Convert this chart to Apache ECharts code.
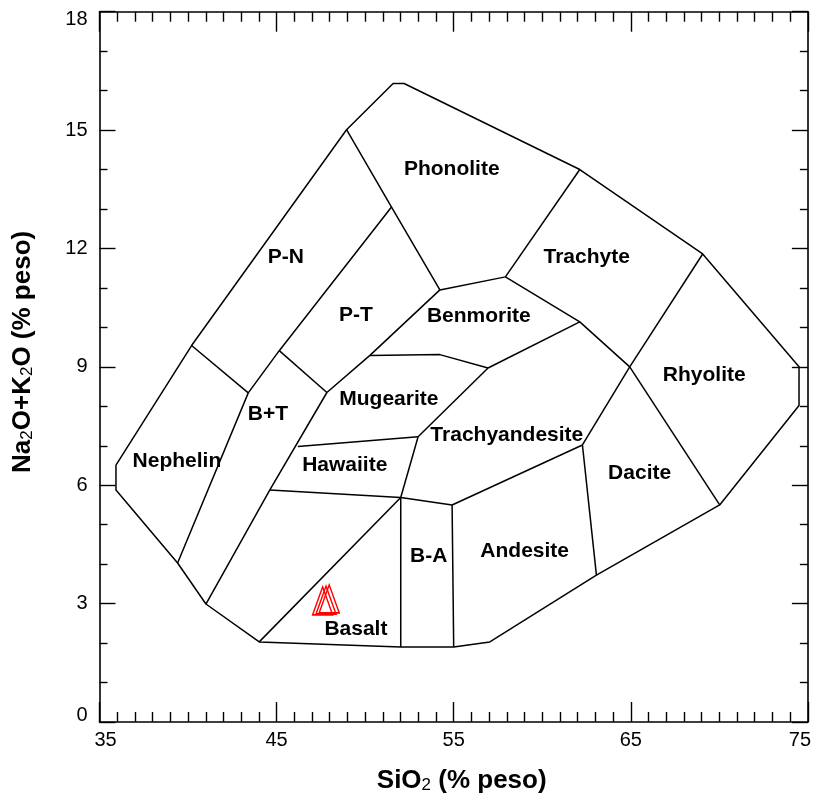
<!DOCTYPE html>
<html>
<head>
<meta charset="utf-8">
<script src="https://cdn.jsdelivr.net/npm/echarts@6/dist/echarts.min.js"></script>
<style>
html,body{margin:0;padding:0;background:#fff;}
#chart{width:814px;height:799px;}
</style>
</head>
<body>
<div id="chart"></div>
<script>
// TAS diagram: total alkalis vs silica, field boundaries in wt%
const outerBoundary = [
  [35.93, 6.51], [40.2, 9.54], [48.95, 15.01], [51.58, 16.18], [52.2, 16.18],
  [62.12, 14.0], [69.06, 11.86], [74.5, 9.0], [74.5, 8.02], [70.02, 5.5],
  [63.06, 3.72], [57.04, 2.03], [55.0, 1.9], [52.01, 1.9], [44.02, 2.03],
  [41.01, 2.99], [39.41, 4.03], [35.93, 5.88], [35.93, 6.51]
];

const fieldDividers = [
  [[40.2, 9.54], [43.4, 8.34]],
  [[51.49, 13.05], [45.15, 9.41], [43.4, 8.34], [39.41, 4.03]],
  [[45.15, 9.41], [47.84, 8.35]],
  [[48.95, 15.01], [51.49, 13.05], [54.22, 10.95]],
  [[47.84, 8.35], [50.27, 9.29], [54.22, 10.95]],
  [[54.22, 10.95], [57.92, 11.28]],
  [[57.92, 11.28], [62.12, 14.0]],
  [[57.92, 11.28], [62.12, 10.14], [64.94, 9.0]],
  [[64.94, 9.0], [69.06, 11.86]],
  [[50.27, 9.29], [54.22, 9.31], [56.94, 8.97]],
  [[56.94, 8.97], [62.12, 10.14]],
  [[47.84, 8.35], [44.62, 5.88], [41.01, 2.99]],
  [[46.2, 6.98], [52.99, 7.23]],
  [[52.99, 7.23], [56.94, 8.97]],
  [[52.99, 7.23], [52.01, 5.69]],
  [[44.62, 5.88], [52.01, 5.69]],
  [[44.02, 2.03], [52.01, 5.69]],
  [[52.01, 5.69], [52.01, 1.9]],
  [[52.01, 5.69], [54.91, 5.5]],
  [[54.91, 5.5], [55.0, 1.9]],
  [[54.91, 5.5], [62.27, 7.02]],
  [[62.27, 7.02], [64.94, 9.0]],
  [[62.27, 7.02], [63.06, 3.72]],
  [[64.94, 9.0], [70.02, 5.5]]
];

// Field names and where they sit
const fieldNames = ['Phonolite', 'P-N', 'Trachyte', 'P-T', 'Benmorite', 'Rhyolite', 'Mugearite',
  'B+T', 'Trachyandesite', 'Nephelin', 'Hawaiite', 'Dacite', 'B-A', 'Andesite', 'Basalt'];
const fieldSiO2 = [54.89, 45.52, 62.51, 49.48, 56.42, 69.15, 51.34, 44.51, 58.0, 39.37, 48.85, 65.5, 53.59, 59.01, 49.48];
const fieldAlk  = [14.0, 11.78, 11.78, 10.32, 10.29, 8.78, 8.17, 7.79, 7.26, 6.6, 6.5, 6.3, 4.2, 4.33, 2.34];

// Analysed samples
const sampleSiO2 = [47.60, 47.79, 47.97];
const sampleAlk  = [3.07, 3.09, 3.12];

// Axis tick labels
const siO2Ticks = [35, 45, 55, 65, 75];
const alkTicks = [0, 3, 6, 9, 12, 15, 18];

const FONT = 'Arial, "Liberation Sans", Helvetica, sans-serif';
const chart = echarts.init(document.getElementById('chart'));

const lineStyle = { color: '#000', width: 1.5 };
const boundarySeries = [outerBoundary].concat(fieldDividers).map(seg => ({
  type: 'line',
  data: seg,
  symbol: 'none',
  showSymbol: false,
  silent: true,
  lineStyle: lineStyle,
  z: 2
}));

const frameAxis = (extra) => Object.assign({
  type: 'value',
  splitLine: { show: false },
  minorSplitLine: { show: false },
  axisLine: { show: true, onZero: false, lineStyle: { color: '#000', width: 1.6 } }
}, extra);

const xCommon = {
  min: 35, max: 75, interval: 10,
  axisTick: { show: true, inside: true, length: 20, lineStyle: { color: '#000', width: 1.4 } },
  minorTick: { show: true, splitNumber: 10, length: 10, lineStyle: { color: '#000', width: 1.4 } }
};
const yCommon = {
  min: 0, max: 18, interval: 3,
  axisTick: { show: true, inside: true, length: 16, lineStyle: { color: '#000', width: 1.4 } },
  minorTick: { show: true, splitNumber: 3, length: 8, lineStyle: { color: '#000', width: 1.4 } }
};

const nameRich = {
  m: { fontSize: 26, fontWeight: 'bold', fontFamily: FONT, color: '#000', lineHeight: 30, verticalAlign: 'bottom' },
  s: { fontSize: 17, fontWeight: 'normal', fontFamily: FONT, color: '#000', lineHeight: 24, verticalAlign: 'bottom' }
};
const tickFont = { fontSize: 20, color: '#000', fontFamily: FONT };

chart.setOption({
  animation: false,
  textStyle: { fontFamily: FONT },
  grid: { left: 99.5, right: 5.7, top: 11.7, bottom: 74.5, containLabel: false },
  xAxis: [
    frameAxis(Object.assign({}, xCommon, {
      position: 'bottom',
      name: '{m|SiO}{s|2}{m| (% peso)}',
      nameLocation: 'middle',
      nameGap: 42,
      nameTextStyle: { rich: nameRich, padding: [0, 0, 0, 16] },
      axisLabel: Object.assign({
        show: true, showMinLabel: true, showMaxLabel: true,
        customValues: siO2Ticks,
        margin: 8,
        formatter: v => v === 35 ? '{l|' + v + '}' : (v === 75 ? '{r|' + v + '}' : String(v)),
        rich: {
          l: Object.assign({ padding: [0, 0, 0, 12] }, tickFont),
          r: Object.assign({ padding: [0, 16, 0, 0] }, tickFont)
        }
      }, tickFont)
    })),
    frameAxis(Object.assign({}, xCommon, { position: 'top', axisLabel: { show: false } }))
  ],
  yAxis: [
    frameAxis(Object.assign({}, yCommon, {
      position: 'left',
      name: '{m|Na}{s|2}{m|O+K}{s|2}{m|O (% peso)}',
      nameLocation: 'middle',
      nameRotate: 90,
      nameGap: 64,
      nameTextStyle: { rich: nameRich, padding: [0, 0, 0, 30] },
      axisLabel: Object.assign({
        show: true, showMinLabel: true, showMaxLabel: true,
        customValues: alkTicks,
        margin: 12,
        formatter: v => v === 18 ? '{t|' + v + '}' : (v === 0 ? '{b|' + v + '}' : String(v)),
        rich: {
          t: Object.assign({ padding: [16, 0, 0, 0] }, tickFont),
          b: Object.assign({ padding: [0, 0, 14, 0] }, tickFont)
        }
      }, tickFont)
    })),
    frameAxis(Object.assign({}, yCommon, { position: 'right', axisLabel: { show: false } }))
  ],
  series: boundarySeries.concat([
    {
      type: 'scatter',
      silent: true,
      symbol: 'circle',
      symbolSize: 1,
      itemStyle: { color: 'rgba(0,0,0,0)', opacity: 1 },
      data: fieldNames.map((n, i) => ({ name: n, value: [fieldSiO2[i], fieldAlk[i]] })),
      label: {
        show: true, position: 'inside', formatter: '{b}', opacity: 1,
        fontSize: 21, fontWeight: 'bold', color: '#000', fontFamily: FONT,
        textBorderWidth: 0
      },
      z: 3
    },
    {
      type: 'scatter',
      symbol: 'triangle',
      symbolSize: [20, 28],
      itemStyle: { color: 'rgba(255,255,255,0)', borderColor: '#ff0000', borderWidth: 1.6, opacity: 1 },
      data: sampleSiO2.map((x, i) => [x, sampleAlk[i]]),
      z: 4
    }
  ])
});
</script>
</body>
</html>
